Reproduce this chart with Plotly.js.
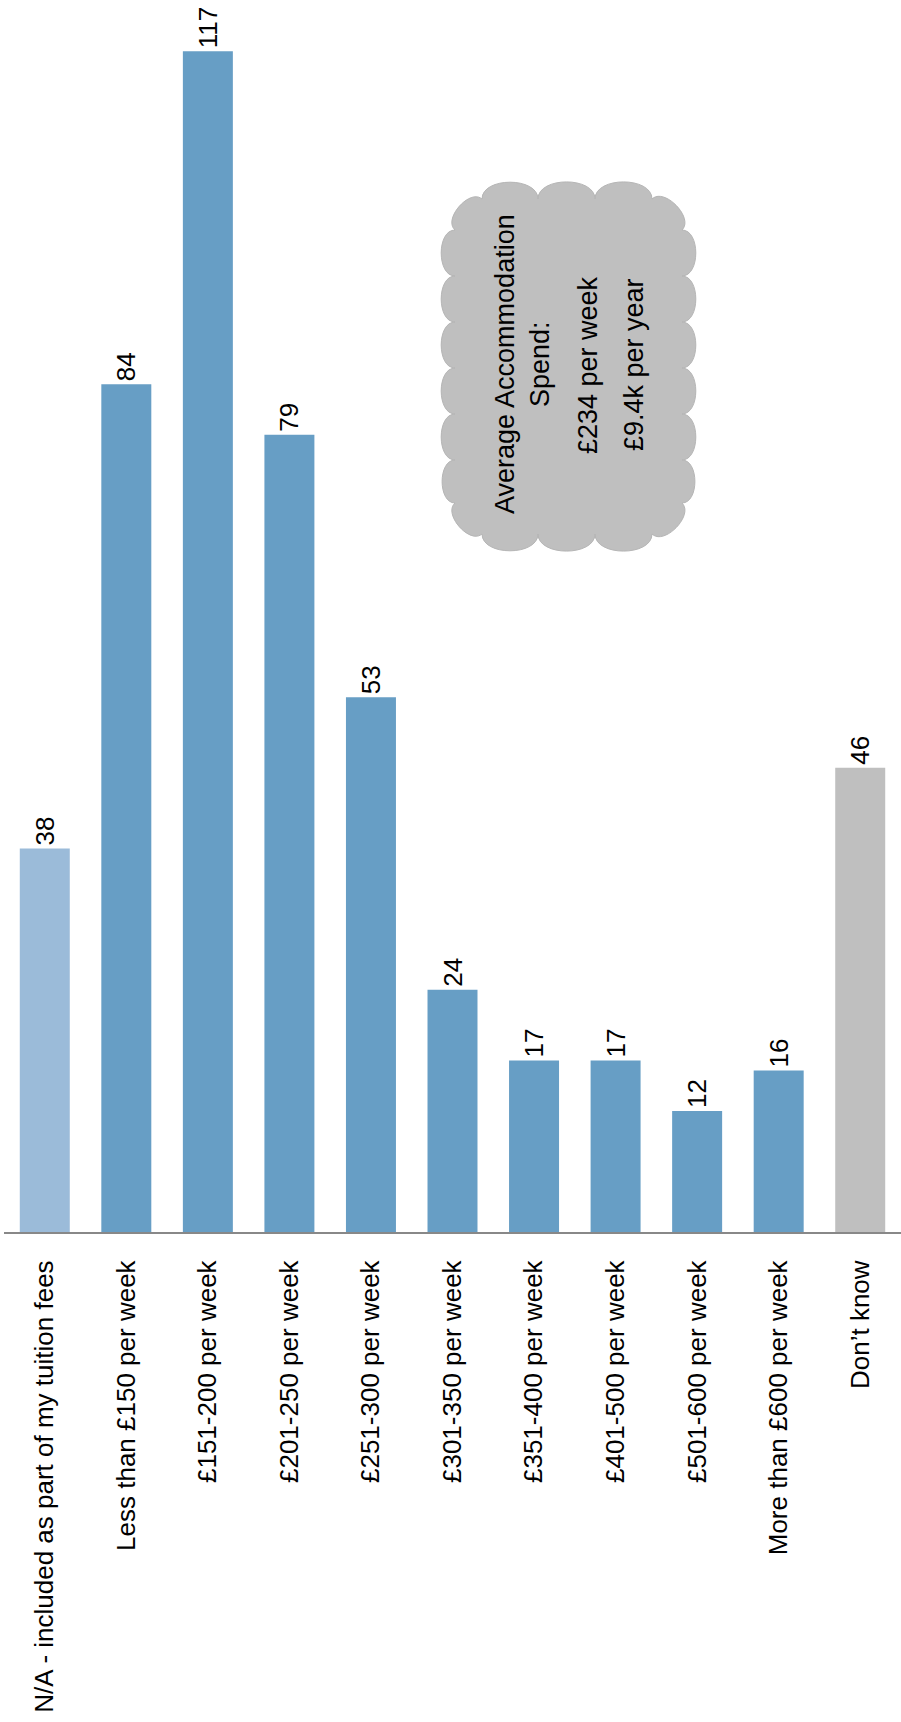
<!DOCTYPE html>
<html>
<head>
<meta charset="utf-8">
<script src="https://cdn.plot.ly/plotly-3.0.1.min.js"></script>
<style>html,body{margin:0;padding:0;background:#fff;}#chart{width:901px;height:1722px;}</style>
</head>
<body>
<div id="chart"></div>
<script>
// ---- data ----
const categories = [
  "N/A - included as part of my tuition fees",
  "Less than £150 per week",
  "£151-200 per week",
  "£201-250 per week",
  "£251-300 per week",
  "£301-350 per week",
  "£351-400 per week",
  "£401-500 per week",
  "£501-600 per week",
  "More than £600 per week",
  "Don’t know"
];
const values = [38, 84, 117, 79, 53, 24, 17, 17, 12, 16, 46];
const barColors = ["#9bbbd9", "#679ec5", "#679ec5", "#679ec5", "#679ec5", "#679ec5",
                   "#679ec5", "#679ec5", "#679ec5", "#679ec5", "#bfbfbf"];
const calloutTitle = "Average Accommodation<br>Spend:";
const calloutWeek = "£234 per week";
const calloutYear = "£9.4k per year";

// ---- layout geometry ----
const W = 901, H = 1722;
const M = {l: 4, r: 0, t: 21, b: 490};
const PW = W - M.l - M.r, PH = H - M.t - M.b;
const px2x = p => (p - M.l) / PW;
const px2y = p => 1 - (p - M.t) / PH;
const FONT = "Liberation Sans, Arial, Helvetica, sans-serif";

// cloud outline (pixel coords -> paper coords)
function cloudPath() {
  const L = 455, R = 682, T = 199, B = 534;
  const pts = [];
  [482, 538, 595, 652].forEach(x => pts.push([x, T]));
  [230, 276, 322, 368, 414, 460, 503].forEach(y => pts.push([R, y]));
  [652, 595, 538, 482].forEach(x => pts.push([x, B]));
  [503, 460, 414, 368, 322, 276, 230].forEach(y => pts.push([L, y]));
  let d = "M" + px2x(pts[0][0]) + "," + px2y(pts[0][1]);
  for (let i = 0; i < pts.length; i++) {
    const a = pts[i], b = pts[(i + 1) % pts.length];
    const dx = b[0] - a[0], dy = b[1] - a[1];
    const len = Math.hypot(dx, dy);
    const nx = dy / len, ny = -dx / len;
    const c = 0.4 * len;
    const c1 = [a[0] + nx * c, a[1] + ny * c];
    const c2 = [b[0] + nx * c, b[1] + ny * c];
    d += " C" + px2x(c1[0]) + "," + px2y(c1[1]) + " " + px2x(c2[0]) + "," + px2y(c2[1]) +
         " " + px2x(b[0]) + "," + px2y(b[1]);
  }
  return d + " Z";
}

const trace = {
  type: "bar",
  x: categories,
  y: values,
  text: values.map(String),
  textposition: "outside",
  textangle: -90,
  constraintext: "none",
  cliponaxis: false,
  outsidetextfont: {family: FONT, size: 26, color: "#000"},
  marker: {color: barColors, line: {width: 0}},
  hoverinfo: "skip"
};

const layout = {
  width: W, height: H,
  margin: M,
  paper_bgcolor: "#fff", plot_bgcolor: "#fff",
  showlegend: false,
  bargap: 0.387,
  font: {family: FONT, size: 26, color: "#000"},
  xaxis: {
    type: "category",
    range: [-0.5, 10.5],
    tickangle: -90,
    tickfont: {family: FONT, size: 26, color: "#000"},
    showline: true, linecolor: "#888", linewidth: 2,
    ticks: "", showgrid: false, zeroline: false,
    ticklabelstandoff: 16,
    automargin: false, fixedrange: true
  },
  yaxis: {
    range: [0, 120],
    showticklabels: false, showgrid: false, zeroline: false, showline: false,
    ticks: "", automargin: false, fixedrange: true
  },
  shapes: [{
    type: "path", xref: "paper", yref: "paper",
    path: cloudPath(),
    fillcolor: "#bfbfbf",
    line: {color: "#b5b5b5", width: 1},
    layer: "above"
  }],
  annotations: [
    {xref: "paper", yref: "paper", x: px2x(522), y: px2y(364), text: calloutTitle,
     textangle: -90, showarrow: false, align: "center",
     font: {family: FONT, size: 27, color: "#000"}, xanchor: "center", yanchor: "middle"},
    {xref: "paper", yref: "paper", x: px2x(588), y: px2y(365), text: calloutWeek,
     textangle: -90, showarrow: false,
     font: {family: FONT, size: 27, color: "#000"}, xanchor: "center", yanchor: "middle"},
    {xref: "paper", yref: "paper", x: px2x(634), y: px2y(365), text: calloutYear,
     textangle: -90, showarrow: false,
     font: {family: FONT, size: 27, color: "#000"}, xanchor: "center", yanchor: "middle"}
  ]
};

Plotly.newPlot("chart", [trace], layout, {displayModeBar: false, staticPlot: true});
</script>
</body>
</html>
